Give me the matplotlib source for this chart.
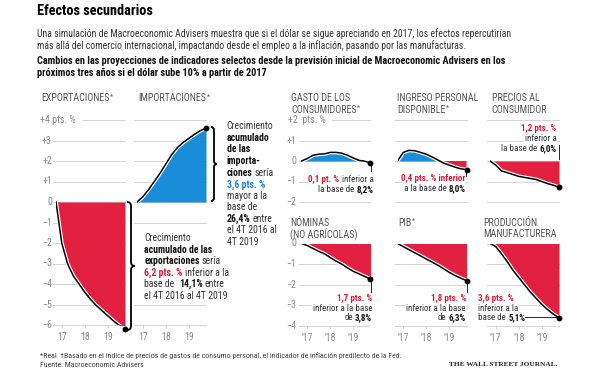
import numpy as np
import matplotlib
matplotlib.use('Agg')
import matplotlib.pyplot as plt
import matplotlib.patheffects as pe
from matplotlib import font_manager as fm
from matplotlib.path import Path
from matplotlib.patches import PathPatch
from matplotlib.lines import Line2D

# data: quarterly, 4T 2016 .. 4T 2019, change vs. baseline (pts. %)
quarters = np.arange(13)
year_ticks = [1, 5, 9]
left_year_labels = ['17', '18', '19']
right_year_labels = ["'17", "'18", "'19"]

exportaciones = [0, -2.0, -3.0, -3.6, -4.0, -4.4, -4.75, -5.05, -5.3, -5.55, -5.8, -6.02, -6.2]
importaciones = [0, 0.25, 0.6, 1.0, 1.4, 1.85, 2.3, 2.65, 2.9, 3.1, 3.3, 3.48, 3.6]
gasto = [0, 0.12, 0.28, 0.33, 0.35, 0.42, 0.42, 0.38, 0.28, 0.15, 0.03, -0.01, -0.1]
ingreso = [0, 0.42, 0.52, 0.5, 0.42, 0.33, 0.2, 0.05, -0.1, -0.2, -0.3, -0.38, -0.42]
precios = [0, -0.2, -0.48, -0.57, -0.66, -0.75, -0.8, -0.85, -0.9, -1.0, -1.1, -1.18, -1.28]
nominas = [0, -0.1, -0.24, -0.38, -0.5, -0.68, -0.85, -1.0, -1.18, -1.35, -1.47, -1.6, -1.72]
pib = [0, -0.15, -0.3, -0.45, -0.6, -0.75, -0.9, -1.05, -1.22, -1.4, -1.55, -1.68, -1.8]
manufactura = [0, -0.15, -0.5, -0.88, -1.3, -1.65, -2.0, -2.35, -2.65, -2.95, -3.2, -3.42, -3.6]

# pick a narrow sans if one is installed, else Liberation Sans
FONT, STRETCH = 'Liberation Sans', 'normal'
entries = [(f.name, f.stretch) for f in fm.fontManager.ttflist]
narrow = [e for e in entries
          if ('Narrow' in e[0] or 'Condensed' in e[0] or 'condensed' in str(e[1]))
          and not any(b in e[0] for b in ['Mono', 'Serif', 'CJK'])]
for pref in ['Liberation Sans Narrow', 'Roboto Condensed', 'Noto Sans', 'Open Sans',
             'DejaVu Sans', '']:
    hit = [e for e in narrow if pref in e[0]]
    if hit:
        FONT, STRETCH = hit[0]
        break
plt.rcParams['font.family'] = [FONT, 'DejaVu Sans']
plt.rcParams['font.stretch'] = STRETCH

W, H = 600, 370
RED = '#e2203f'
BLUE = '#1a8dd8'
RED_TXT = '#d41e3a'
BLUE_TXT = '#1a86c9'
GRID = '#d4d4d4'
TICK = '#8a8a8a'
TITLE = '#555555'
BODY = '#333333'
BOLD = '#111111'
PW = 69

fig = plt.figure(figsize=(6, 3.7), dpi=100)
R = fig.canvas.get_renderer()


def fx(x):
    return x / W


def fy(y):
    return 1 - y / H


def width(s, size, weight, **kw):
    t = fig.text(0, 0, s, fontsize=size, fontweight=weight, **kw)
    w = t.get_window_extent(R).width
    t.remove()
    return w


def fit(s, target, weight='normal', cap=None, **kw):
    size = 10 * target / width(s, 10, weight, **kw)
    return min(size, cap) if cap else size


SUB1 = ('Una simulación de Macroeconomic Advisers muestra que si el dólar se sigue '
        'apreciando en 2017, los efectos repercutirían')
SUB2 = ('más allá del comercio internacional, impactando desde el empleo a la inflación, '
        'pasando por las manufacturas.')
BOLD1 = ('Cambios en las proyecciones de indicadores selectos desde la previsión inicial '
         'de Macroeconomic Advisers en los')
BOLD2 = 'próximos tres años si el dólar sube 10% a partir de 2017'
FOOT1 = ('*Real  \u2020Basado en el índice de precios de gastos de consumo personal, '
         'el indicador de inflación predilecto de la Fed.')
FOOT2 = 'Fuente: Macroeconomic Advisers'

S_BODY = fit(SUB1, 468, cap=7.6)
S_BOLD = fit(BOLD1, 473, 'bold', cap=7.8)
S_TITLE = fit('Efectos secundarios', 116, 'bold', cap=11)
S_HEAD = fit('EXPORTACIONES', 69, cap=7.3)
S_NOTE = fit('inferior a la base', 59, cap=7.6)
S_FOOT = fit(FOOT1, 362, cap=6.2)
S_TICK = S_HEAD
SERIF = ['Liberation Serif', 'DejaVu Serif']
S_WSJ = fit('THE WALL STREET JOURNAL.', 109, 'bold', cap=6.5, family=SERIF)


def rich(x, y, parts, ha='left', size=None, bg=False):
    # parts: (text, weight, color[, gap, size factor, raise px]) placed one after another
    size = size or S_NOTE
    base = y + 0.34 * size * 100 / 72
    gap = width('a a', size, 'normal') - width('aa', size, 'normal')
    arts = []
    for p in parts:
        s, wt, c = p[:3]
        g = p[3] if len(p) > 3 else gap
        sz = size * (p[4] if len(p) > 4 else 1)
        dy = p[5] if len(p) > 5 else 0
        kw = {}
        if bg:
            kw['bbox'] = dict(fc='white', ec='none', pad=0.4)
        t = fig.text(0, fy(base - dy), s, fontsize=sz, fontweight=wt, color=c,
                     va='baseline', ha='left', **kw)
        arts.append((t, t.get_window_extent(R).width, g))
    total = sum(w for _, w, _ in arts) + sum(g for _, _, g in arts[1:])
    cx = x - total if ha == 'right' else x
    for i, (t, w, g) in enumerate(arts):
        if i > 0:
            cx += g
        t.set_x(fx(cx))
        cx += w


def brace(x, yt, yb, w, lw=1.3):
    ym = (yt + yb) / 2
    xm = x + w / 2
    r = w / 2
    pts = [(x, yt), (xm, yt), (xm, yt + r), (xm, ym - r), (xm, ym), (x + w, ym),
           (xm, ym), (xm, ym + r), (xm, yb - r), (xm, yb), (x, yb)]
    codes = [Path.MOVETO, Path.CURVE3, Path.CURVE3, Path.LINETO, Path.CURVE3, Path.CURVE3,
             Path.CURVE3, Path.CURVE3, Path.LINETO, Path.CURVE3, Path.CURVE3]
    path = Path([(fx(a), fy(b)) for a, b in pts], codes)
    fig.add_artist(PathPatch(path, fill=False, lw=lw, ec='black', transform=fig.transFigure))


def vline(x, y0, y1, x1=None):
    x1 = x if x1 is None else x1
    fig.add_artist(Line2D([fx(x), fx(x1)], [fy(y0), fy(y1)], color='black', lw=0.6,
                          transform=fig.transFigure, zorder=5))


def panel(x0, ytop, ybot, ylo, yhi, values, grid, xlabels=None):
    ax = fig.add_axes([fx(x0), fy(ybot), PW / W, (ybot - ytop) / H])
    ax.set_xlim(0, 12)
    ax.set_ylim(ylo, yhi)
    for s in ax.spines.values():
        s.set_visible(False)
    ax.set_yticks([])
    for lv, start in grid:
        ax.plot([start, 12], [lv, lv], color=GRID, lw=0.7, clip_on=False, zorder=1)
    v = np.array(values)
    ax.fill_between(quarters, v, 0, where=v >= 0, interpolate=True, color=BLUE, lw=0, zorder=2)
    ax.fill_between(quarters, v, 0, where=v <= 0, interpolate=True, color=RED, lw=0, zorder=2)
    ax.plot(quarters, v, color='black', lw=1.1, zorder=3,
            path_effects=[pe.Stroke(linewidth=2.8, foreground='white'), pe.Normal()])
    ax.plot(quarters[-1], v[-1], 'o', color='black', ms=3.2, zorder=4, clip_on=False)
    if xlabels:
        ax.set_xticks(year_ticks)
        ax.set_xticklabels(xlabels)
        ax.tick_params(axis='x', length=2.5, width=0.7, color=GRID, pad=2.5,
                       labelsize=S_TICK, labelcolor=TICK)
    else:
        ax.set_xticks([])
    return ax


# left panels: +4 .. -6
L_TOP, L_BOT = 120, 325
full = -0.5
exp_grid = [(4, 4.7)] + [(lv, full) for lv in range(3, -7, -1)]
imp_grid = [(lv, full) for lv in [4, 3, 2, 1, 0, -1, -5, -6]]
panel(56, L_TOP, L_BOT, -6, 4, exportaciones, exp_grid, left_year_labels)
panel(137, L_TOP, L_BOT, -6, 4, importaciones, imp_grid, left_year_labels)

# right panels
cols = [301.5, 397.5, 490]
T_TOP, T_BOT = 120, 202
B_TOP, B_BOT = 243.5, 326
top_grid_first = [(2, 5.3)] + [(lv, full) for lv in [1, 0, -1, -2]]
top_grid = [(lv, full) for lv in [2, 1, 0, -1, -2]]
bot_grid = [(lv, full) for lv in [0, -1, -2, -3, -4]]
panel(cols[0], T_TOP, T_BOT, -2, 2, gasto, top_grid_first)
panel(cols[1], T_TOP, T_BOT, -2, 2, ingreso, top_grid)
panel(cols[2], T_TOP, T_BOT, -2, 2, precios, top_grid)
panel(cols[0], B_TOP, B_BOT, -4, 0, nominas, bot_grid, right_year_labels)
panel(cols[1], B_TOP, B_BOT, -4, 0, pib, bot_grid, right_year_labels)
panel(cols[2], B_TOP, B_BOT, -4, 0, manufactura, bot_grid, right_year_labels)


# y tick labels
def ylab(x, y, s):
    fig.text(fx(x), fy(y), s, fontsize=S_TICK, color=TICK, ha='right', va='center')


def sign(lv):
    return ('+%d' % lv if lv > 0 else str(lv)).replace('-', '\u2212')


fig.text(fx(40.5), fy(120), '+4 pts. %', fontsize=S_TICK, color=TICK, ha='left', va='center')
for lv in range(3, -7, -1):
    ylab(52, L_TOP + (4 - lv) * 20.5, sign(lv))
fig.text(fx(288), fy(120), '+2  pts. %', fontsize=S_TICK, color=TICK, ha='left', va='center')
for lv in [1, 0, -1, -2]:
    ylab(296, T_TOP + (2 - lv) * 20.5, sign(lv))
for lv in [0, -1, -2, -3, -4]:
    ylab(296, B_TOP - lv * 20.6, sign(lv))

# headings
fig.text(fx(37), fy(11), 'Efectos secundarios', fontsize=S_TITLE, fontweight='bold',
         color='black', va='center')
fig.text(fx(37), fy(34), SUB1, fontsize=S_BODY, color=BODY, va='center')
fig.text(fx(37), fy(46), SUB2, fontsize=S_BODY, color=BODY, va='center')
fig.text(fx(37), fy(61), BOLD1, fontsize=S_BOLD, fontweight='bold', color=BOLD, va='center')
fig.text(fx(37), fy(73), BOLD2, fontsize=S_BOLD, fontweight='bold', color=BOLD, va='center')

# panel titles
star = ('*', 'normal', TITLE, 0.3, 0.7, 2.5)
titles = [
    (41.5, 98, ['EXPORTACIONES'], True),
    (138.3, 98, ['IMPORTACIONES'], True),
    (291, 98, ['GASTO DE LOS', 'CONSUMIDORES'], True),
    (397.3, 98, ['INGRESO PERSONAL', 'DISPONIBLE'], True),
    (491.7, 98, ['PRECIOS AL', 'CONSUMIDOR'], False),
    (290, 222.5, ['NÓMINAS', '(NO AGRÍCOLAS)'], False),
    (398, 222.5, ['PIB'], True),
    (483.3, 222.5, ['PRODUCCIÓN', 'MANUFACTURERA'], False),
]
for x, y, lines, real in titles:
    for i, s in enumerate(lines):
        parts = [(s, 'normal', TITLE)]
        if real and i == len(lines) - 1:
            parts.append(star)
        rich(x, y + i * 11.5, parts, size=S_HEAD)

# annotations, left
imp_lines = [
    [('Crecimiento', 'normal', BODY)],
    [('acumulado', 'bold', BOLD)],
    [('de las', 'bold', BOLD)],
    [('importa-', 'bold', BOLD)],
    [('ciones', 'bold', BOLD), ('sería', 'normal', BODY)],
    [('3,6 pts. %', 'bold', BLUE_TXT)],
    [('mayor a la', 'normal', BODY)],
    [('base de', 'normal', BODY)],
    [('26,4%', 'bold', BOLD), ('entre', 'normal', BODY)],
    [('el 4T 2016 al', 'normal', BODY)],
    [('4T 2019', 'normal', BODY)],
]
for i, parts in enumerate(imp_lines):
    rich(226.7, 126 + i * 11.57, parts, size=S_BODY)

exp_lines = [
    [('Crecimiento', 'normal', BODY)],
    [('acumulado de las', 'bold', BOLD)],
    [('exportaciones', 'bold', BOLD), ('sería', 'normal', BODY)],
    [('6,2 pts. %', 'bold', RED_TXT), ('inferior a la', 'normal', BODY)],
    [('base de ', 'normal', BODY), ('14,1%', 'bold', BOLD), ('entre', 'normal', BODY)],
    [('el 4T 2016 al 4T 2019', 'normal', BODY)],
]
for i, parts in enumerate(exp_lines):
    rich(144.3, 237.7 + i * 11.5, parts, size=S_BODY, bg=True)

brace(211, 127, 201, 6)
brace(127, 202, 330, 8)

# annotations, right
rich(373.3, 179, [('0,1 pt. %', 'bold', RED_TXT), ('inferior a', 'normal', BODY)], ha='right', bg=True)
rich(373.3, 189.3, [('la base de', 'normal', BODY), ('8,2%', 'bold', BOLD)], ha='right', bg=True)
rich(465.7, 178.3, [('0,4 pts. % inferior', 'bold', RED_TXT)], ha='right', bg=True)
rich(465.7, 188.3, [('a la base de', 'normal', BODY), ('8,0%', 'bold', BOLD)], ha='right', bg=True)
rich(556.5, 128, [('1,2 pts. %', 'bold', RED_TXT)], ha='right', bg=True)
rich(556.5, 138, [('inferior a', 'normal', BODY)], ha='right', bg=True)
rich(556.5, 148, [('la base de', 'normal', BODY), ('6,0%', 'bold', BOLD)], ha='right', bg=True)

for x, pts, pct in [(372.3, '1,7 pts. %', '3,8%'), (466, '1,8 pts. %', '6,3%')]:
    rich(x, 297.7, [(pts, 'bold', RED_TXT)], ha='right', bg=True)
    rich(x, 307.7, [('inferior a la base', 'normal', BODY)], ha='right', bg=True)
    rich(x, 317.3, [('de', 'normal', BODY), (pct, 'bold', BOLD)], ha='right', bg=True)
rich(478.3, 297.7, [('3,6 pts. %', 'bold', RED_TXT)], bg=True)
rich(478.3, 307.7, [('inferior a la', 'normal', BODY)], bg=True)
rich(478.3, 317.3, [('base de', 'normal', BODY), ('5,1%', 'bold', BOLD)], bg=True)

vline(370.5, 164, 171)
vline(465.5, 170, 176)
vline(558.5, 145, 159)
vline(370.5, 280, 292)
vline(466.5, 282, 292)
vline(525, 316.5, 316.5, 556)

# footer
fig.text(fx(40), fy(355.5), FOOT1, fontsize=S_FOOT, color='#444444', va='center')
fig.text(fx(40), fy(365), FOOT2, fontsize=S_FOOT, color='#444444', va='center')
fig.text(fx(557.7), fy(365), 'THE WALL STREET JOURNAL.', fontsize=S_WSJ, fontweight='bold',
         family=SERIF, color='#222222', ha='right', va='center')

fig.savefig('out.png', dpi=100)
